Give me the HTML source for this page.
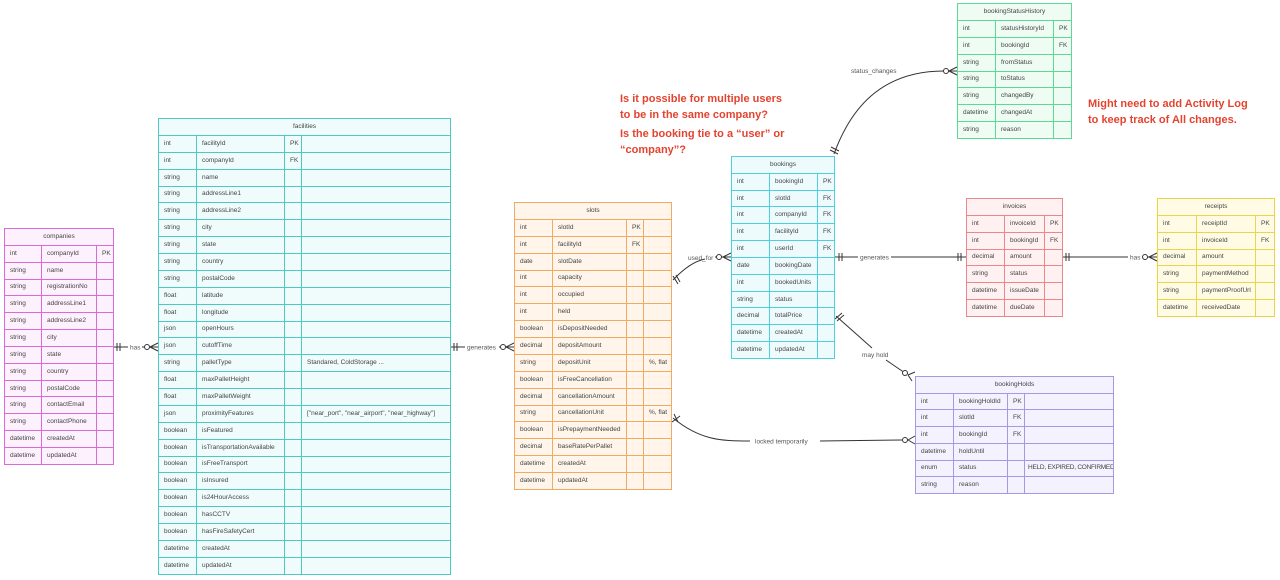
<!DOCTYPE html>
<html><head><meta charset="utf-8"><style>
html,body{margin:0;padding:0;background:#fff;width:1280px;height:580px;overflow:hidden;position:relative;font-family:"Liberation Sans",sans-serif;}
.t{position:absolute;border-collapse:collapse;table-layout:fixed;font-size:6.5px;color:#444;}
.t td{border:1px solid var(--b);background:var(--f);padding:0 0 0 5px;white-space:nowrap;overflow:hidden;line-height:8px;}
.t td.h{text-align:center;padding:0;}
.t td.sm{padding-left:3px;letter-spacing:-0.25px;}
.mg{--b:#d86bd8;--f:#fdf1fd;}
.tl{--b:#4cc9c2;--f:#effcfb;}
.or{--b:#f0aa66;--f:#fff5ea;}
.cy{--b:#4dcfdc;--f:#eefbfd;}
.gr{--b:#5ed894;--f:#effcf3;}
.rd{--b:#e88888;--f:#fff1f1;}
.yl{--b:#ecd44a;--f:#fffbe5;}
.pu{--b:#a898e2;--f:#f4f2fe;}
.note{position:absolute;color:#e4432f;font-weight:bold;font-size:11px;line-height:15.5px;}
svg{position:absolute;left:0;top:0;}
svg text{font-family:"Liberation Sans",sans-serif;font-size:6.5px;fill:#555;}
</style></head><body>

<svg width="1280" height="580">
<g stroke="#333" stroke-width="1" fill="none">
<line x1="113" y1="347" x2="158" y2="347"/>
<line x1="117" y1="343" x2="117" y2="351"/><line x1="120" y1="343" x2="120" y2="351"/>
<circle cx="147" cy="347" r="2.5" fill="#fff"/>
<path d="M150 347 L158 343 M150 347 L158 351"/>
<line x1="450" y1="347" x2="514" y2="347"/>
<line x1="454" y1="343" x2="454" y2="351"/><line x1="457" y1="343" x2="457" y2="351"/>
<circle cx="503" cy="347" r="2.5" fill="#fff"/>
<path d="M506 347 L514 343 M506 347 L514 351"/>
<path d="M673 280 Q690 262 705 259"/>
<line x1="715" y1="257" x2="731" y2="257"/>
<path d="M673 276 L678 284 M676 275 L680 282"/>
<circle cx="719" cy="257" r="2.5" fill="#fff"/>
<path d="M723 257 L731 253 M723 257 L731 261"/>
<path d="M834 154 C850 110 880 71 944 71"/>
<line x1="944" y1="71" x2="957" y2="71"/>
<path d="M830 150 L838 154 M831 147 L839 151"/>
<circle cx="946" cy="71" r="2.5" fill="#fff"/>
<path d="M949 71 L957 67 M949 71 L957 75"/>
<line x1="834" y1="257" x2="966" y2="257"/>
<line x1="839" y1="253" x2="839" y2="261"/><line x1="842" y1="253" x2="842" y2="261"/>
<line x1="958" y1="253" x2="958" y2="261"/><line x1="961" y1="253" x2="961" y2="261"/>
<line x1="1062" y1="257" x2="1157" y2="257"/>
<line x1="1066" y1="253" x2="1066" y2="261"/><line x1="1069" y1="253" x2="1069" y2="261"/>
<circle cx="1145" cy="257" r="2.5" fill="#fff"/>
<path d="M1149 257 L1157 253 M1149 257 L1157 261"/>
<path d="M836 316 L872 348 M886 360 L905 373"/>
<path d="M835 319 L842 313 M837 321 L844 315"/>
<circle cx="905" cy="373" r="2.5" fill="#fff"/>
<path d="M908 375 L915 372 M908 375 L912 381"/>
<path d="M673 418 C700 440 720 441 750 441"/>
<line x1="820" y1="441" x2="902" y2="440"/>
<path d="M672 422 L680 416 M674 414 L678 422"/>
<circle cx="905" cy="440" r="2.5" fill="#fff"/>
<path d="M908 440 L915 436 M908 440 L915 444"/>
</g>
<g>
<rect x="128" y="343" width="14" height="8" fill="#fff"/><text x="130" y="349.5">has</text>
<rect x="465" y="343" width="34" height="8" fill="#fff"/><text x="467" y="349.5">generates</text>
<text x="688" y="260">used_for</text>
<text x="851" y="73">status_changes</text>
<rect x="858" y="253" width="33" height="8" fill="#fff"/><text x="860" y="259.5">generates</text>
<rect x="1128" y="253" width="14" height="8" fill="#fff"/><text x="1130" y="259.5">has</text>
<text x="862" y="357">may hold</text>
<rect x="752" y="437" width="66" height="8" fill="#fff"/><text x="755" y="443.5">locked temporarily</text>
</g>
</svg>

<div class="note" style="left:620px;top:92px;">Is it possible for multiple users<br>to be in the same company?</div>
<div class="note" style="left:620px;top:127px;">Is the booking tie to a “user” or<br>“company”?</div>
<div class="note" style="left:1088px;top:97px;">Might need to add Activity Log<br>to keep track of All changes.</div>

<table class="t mg" style="left:4px;top:228px;width:109px;height:237px;">
<col style="width:37px"><col style="width:55px"><col style="width:17px">
<tr><td class="h" colspan="3">companies</td></tr>
<tr><td>int</td><td>companyId</td><td>PK</td></tr>
<tr><td>string</td><td>name</td><td></td></tr>
<tr><td>string</td><td>registrationNo</td><td></td></tr>
<tr><td>string</td><td>addressLine1</td><td></td></tr>
<tr><td>string</td><td>addressLine2</td><td></td></tr>
<tr><td>string</td><td>city</td><td></td></tr>
<tr><td>string</td><td>state</td><td></td></tr>
<tr><td>string</td><td>country</td><td></td></tr>
<tr><td>string</td><td>postalCode</td><td></td></tr>
<tr><td>string</td><td>contactEmail</td><td></td></tr>
<tr><td>string</td><td>contactPhone</td><td></td></tr>
<tr><td>datetime</td><td>createdAt</td><td></td></tr>
<tr><td>datetime</td><td>updatedAt</td><td></td></tr>
</table>

<table class="t tl" style="left:158px;top:118px;width:292px;height:457px;">
<col style="width:38px"><col style="width:88px"><col style="width:17px"><col style="width:149px">
<tr><td class="h" colspan="4">facilities</td></tr>
<tr><td>int</td><td>facilityId</td><td>PK</td><td></td></tr>
<tr><td>int</td><td>companyId</td><td>FK</td><td></td></tr>
<tr><td>string</td><td>name</td><td></td><td></td></tr>
<tr><td>string</td><td>addressLine1</td><td></td><td></td></tr>
<tr><td>string</td><td>addressLine2</td><td></td><td></td></tr>
<tr><td>string</td><td>city</td><td></td><td></td></tr>
<tr><td>string</td><td>state</td><td></td><td></td></tr>
<tr><td>string</td><td>country</td><td></td><td></td></tr>
<tr><td>string</td><td>postalCode</td><td></td><td></td></tr>
<tr><td>float</td><td>latitude</td><td></td><td></td></tr>
<tr><td>float</td><td>longitude</td><td></td><td></td></tr>
<tr><td>json</td><td>openHours</td><td></td><td></td></tr>
<tr><td>json</td><td>cutoffTime</td><td></td><td></td></tr>
<tr><td>string</td><td>palletType</td><td></td><td>Standared, ColdStorage ...</td></tr>
<tr><td>float</td><td>maxPalletHeight</td><td></td><td></td></tr>
<tr><td>float</td><td>maxPalletWeight</td><td></td><td></td></tr>
<tr><td>json</td><td>proximityFeatures</td><td></td><td>["near_port", "near_airport", "near_highway"]</td></tr>
<tr><td>boolean</td><td>isFeatured</td><td></td><td></td></tr>
<tr><td>boolean</td><td>isTransportationAvailable</td><td></td><td></td></tr>
<tr><td>boolean</td><td>isFreeTransport</td><td></td><td></td></tr>
<tr><td>boolean</td><td>isInsured</td><td></td><td></td></tr>
<tr><td>boolean</td><td>is24HourAccess</td><td></td><td></td></tr>
<tr><td>boolean</td><td>hasCCTV</td><td></td><td></td></tr>
<tr><td>boolean</td><td>hasFireSafetyCert</td><td></td><td></td></tr>
<tr><td>datetime</td><td>createdAt</td><td></td><td></td></tr>
<tr><td>datetime</td><td>updatedAt</td><td></td><td></td></tr>
</table>

<table class="t or" style="left:514px;top:202px;width:157px;height:288px;">
<col style="width:38px"><col style="width:74px"><col style="width:17px"><col style="width:28px">
<tr><td class="h" colspan="4">slots</td></tr>
<tr><td>int</td><td>slotId</td><td>PK</td><td></td></tr>
<tr><td>int</td><td>facilityId</td><td>FK</td><td></td></tr>
<tr><td>date</td><td>slotDate</td><td></td><td></td></tr>
<tr><td>int</td><td>capacity</td><td></td><td></td></tr>
<tr><td>int</td><td>occupied</td><td></td><td></td></tr>
<tr><td>int</td><td>held</td><td></td><td></td></tr>
<tr><td>boolean</td><td>isDepositNeeded</td><td></td><td></td></tr>
<tr><td>decimal</td><td>depositAmount</td><td></td><td></td></tr>
<tr><td>string</td><td>depositUnit</td><td></td><td>%, flat</td></tr>
<tr><td>boolean</td><td>isFreeCancellation</td><td></td><td></td></tr>
<tr><td>decimal</td><td>cancellationAmount</td><td></td><td></td></tr>
<tr><td>string</td><td>cancellationUnit</td><td></td><td>%, flat</td></tr>
<tr><td>boolean</td><td>isPrepaymentNeeded</td><td></td><td></td></tr>
<tr><td>decimal</td><td>baseRatePerPallet</td><td></td><td></td></tr>
<tr><td>datetime</td><td>createdAt</td><td></td><td></td></tr>
<tr><td>datetime</td><td>updatedAt</td><td></td><td></td></tr>
</table>

<table class="t cy" style="left:731px;top:156px;width:103px;height:203px;">
<col style="width:38px"><col style="width:48px"><col style="width:17px">
<tr><td class="h" colspan="3">bookings</td></tr>
<tr><td>int</td><td>bookingId</td><td>PK</td></tr>
<tr><td>int</td><td>slotId</td><td>FK</td></tr>
<tr><td>int</td><td>companyId</td><td>FK</td></tr>
<tr><td>int</td><td>facilityId</td><td>FK</td></tr>
<tr><td>int</td><td>userId</td><td>FK</td></tr>
<tr><td>date</td><td>bookingDate</td><td></td></tr>
<tr><td>int</td><td>bookedUnits</td><td></td></tr>
<tr><td>string</td><td>status</td><td></td></tr>
<tr><td>decimal</td><td>totalPrice</td><td></td></tr>
<tr><td>datetime</td><td>createdAt</td><td></td></tr>
<tr><td>datetime</td><td>updatedAt</td><td></td></tr>
</table>

<table class="t gr" style="left:957px;top:3px;width:114px;height:136px;">
<col style="width:38px"><col style="width:58px"><col style="width:18px">
<tr><td class="h" colspan="3">bookingStatusHistory</td></tr>
<tr><td>int</td><td>statusHistoryId</td><td>PK</td></tr>
<tr><td>int</td><td>bookingId</td><td>FK</td></tr>
<tr><td>string</td><td>fromStatus</td><td></td></tr>
<tr><td>string</td><td>toStatus</td><td></td></tr>
<tr><td>string</td><td>changedBy</td><td></td></tr>
<tr><td>datetime</td><td>changedAt</td><td></td></tr>
<tr><td>string</td><td>reason</td><td></td></tr>
</table>

<table class="t rd" style="left:966px;top:198px;width:96px;height:119px;">
<col style="width:38px"><col style="width:40px"><col style="width:18px">
<tr><td class="h" colspan="3">invoices</td></tr>
<tr><td>int</td><td>invoiceId</td><td>PK</td></tr>
<tr><td>int</td><td>bookingId</td><td>FK</td></tr>
<tr><td>decimal</td><td>amount</td><td></td></tr>
<tr><td>string</td><td>status</td><td></td></tr>
<tr><td>datetime</td><td>issueDate</td><td></td></tr>
<tr><td>datetime</td><td>dueDate</td><td></td></tr>
</table>

<table class="t yl" style="left:1157px;top:198px;width:117px;height:119px;">
<col style="width:39px"><col style="width:59px"><col style="width:19px">
<tr><td class="h" colspan="3">receipts</td></tr>
<tr><td>int</td><td>receiptId</td><td>PK</td></tr>
<tr><td>int</td><td>invoiceId</td><td>FK</td></tr>
<tr><td>decimal</td><td>amount</td><td></td></tr>
<tr><td>string</td><td>paymentMethod</td><td></td></tr>
<tr><td>string</td><td>paymentProofUrl</td><td></td></tr>
<tr><td>datetime</td><td>receivedDate</td><td></td></tr>
</table>

<table class="t pu" style="left:915px;top:376px;width:198px;height:118px;">
<col style="width:38px"><col style="width:54px"><col style="width:17px"><col style="width:89px">
<tr><td class="h" colspan="4">bookingHolds</td></tr>
<tr><td>int</td><td>bookingHoldId</td><td>PK</td><td></td></tr>
<tr><td>int</td><td>slotId</td><td>FK</td><td></td></tr>
<tr><td>int</td><td>bookingId</td><td>FK</td><td></td></tr>
<tr><td>datetime</td><td>holdUntil</td><td></td><td></td></tr>
<tr><td>enum</td><td>status</td><td></td><td class="sm">HELD, EXPIRED, CONFIRMED</td></tr>
<tr><td>string</td><td>reason</td><td></td><td></td></tr>
</table>

</body></html>
